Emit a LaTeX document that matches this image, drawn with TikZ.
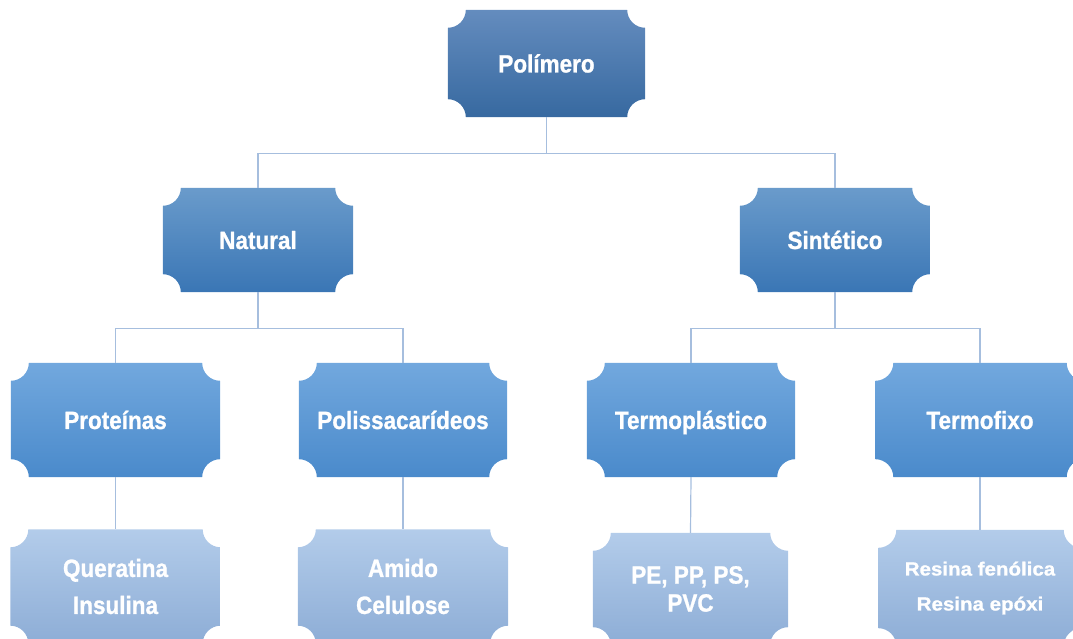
\documentclass[tikz,border=0pt]{standalone}
\usepackage{fontspec}
\setmainfont{Liberation Sans}[FakeStretch=0.9,BoldFeatures={FakeBold=1}]
\newfontfamily\widefont{Liberation Sans}[FakeStretch=1.08,BoldFeatures={FakeBold=1}]
\usepackage{tikz}
\usetikzlibrary{backgrounds,calc}

\definecolor{topA}{HTML}{648CBE}
\definecolor{botA}{HTML}{3769A0}
\definecolor{topB}{HTML}{6A9BCB}
\definecolor{botB}{HTML}{3A76B5}
\definecolor{topC}{HTML}{72A8DE}
\definecolor{botC}{HTML}{4A8ACB}
\definecolor{topD}{HTML}{B3CCEA}
\definecolor{botD}{HTML}{8DADD6}
\definecolor{linkcol}{HTML}{A6BEDE}

\begin{document}
\begin{tikzpicture}[x=1pt,y=1pt,
	box/.style={draw=none,inner sep=0pt,text=white,align=center,font=\bfseries\fontsize{25}{28}\selectfont},
	hdr/.style={box,text height=22pt,text depth=4pt},
	link/.style={draw=linkcol,line width=1.2pt}]
	\path[use as bounding box] (0,0) rectangle (1073,639);

	\node[hdr,minimum width=197pt,minimum height=107pt] (pol) at (546.5,575.5) {Polímero};
	\node[hdr,minimum width=190pt,minimum height=104pt] (nat) at (258,399) {Natural};
	\node[hdr,minimum width=190pt,minimum height=104pt] (sin) at (835,399) {Sintético};

	\node[hdr,minimum width=209pt,minimum height=114pt] (pro) at (115.5,219) {Proteínas};
	\node[hdr,minimum width=208pt,minimum height=114pt] (pls) at (403,219) {Polissacarídeos};
	\node[hdr,minimum width=208pt,minimum height=114pt] (tpl) at (691,219) {Termoplástico};
	\node[hdr,minimum width=209pt,minimum height=114pt] (tfx) at (980,219) {Termofixo};

	\node[box,minimum width=210pt,minimum height=114pt] (que) at (115.5,52.5) {Queratina\\[9pt]Insulina};
	\node[box,minimum width=210pt,minimum height=114pt] (ami) at (403,52.5) {Amido\\[9pt]Celulose};
	\node[box,minimum width=195pt,minimum height=112pt] (pep) at (690.5,50) {PE, PP, PS,\\PVC};
	\node[box,minimum width=203pt,minimum height=116pt,font=\widefont\bfseries\fontsize{19}{22}\selectfont] (res) at (980,51) {Resina fenólica\\[13pt]Resina epóxi};

	% connectors
	\draw[link] (pol.south) -- ++(0,-36) coordinate (jA) -| (nat.north);
	\draw[link] (jA) -| (sin.north);
	\draw[link] (nat.south) -- ++(0,-36) coordinate (jB) -| (pro.north);
	\draw[link] (jB) -| (pls.north);
	\draw[link] (sin.south) -- ++(0,-36) coordinate (jC) -| (tpl.north);
	\draw[link] (jC) -| (tfx.north);
	\draw[link] (pro.south) -- (que.north);
	\draw[link] (pls.south) -- (ami.north);
	\draw[link] (tpl.south) -- (pep.north);
	\draw[link] (tfx.south) -- (res.north);

	% box shapes with concave corners
	\begin{scope}[on background layer]
		\clip (0,0) rectangle (1073,639);
		\foreach \n/\t/\b in {pol/topA/botA,nat/topB/botB,sin/topB/botB,pro/topC/botC,pls/topC/botC,tpl/topC/botC,tfx/topC/botC,que/topD/botD,ami/topD/botD,pep/topD/botD,res/topD/botD}{
			\shade[top color=\t,bottom color=\b]
				([xshift=18pt]\n.north west) -- ([xshift=-18pt]\n.north east)
				arc[start angle=180,end angle=270,radius=18pt] -- ([yshift=18pt]\n.south east)
				arc[start angle=90,end angle=180,radius=18pt] -- ([xshift=18pt]\n.south west)
				arc[start angle=0,end angle=90,radius=18pt] -- ([yshift=-18pt]\n.north west)
				arc[start angle=270,end angle=360,radius=18pt] -- cycle;
		}
	\end{scope}
\end{tikzpicture}
\end{document}
